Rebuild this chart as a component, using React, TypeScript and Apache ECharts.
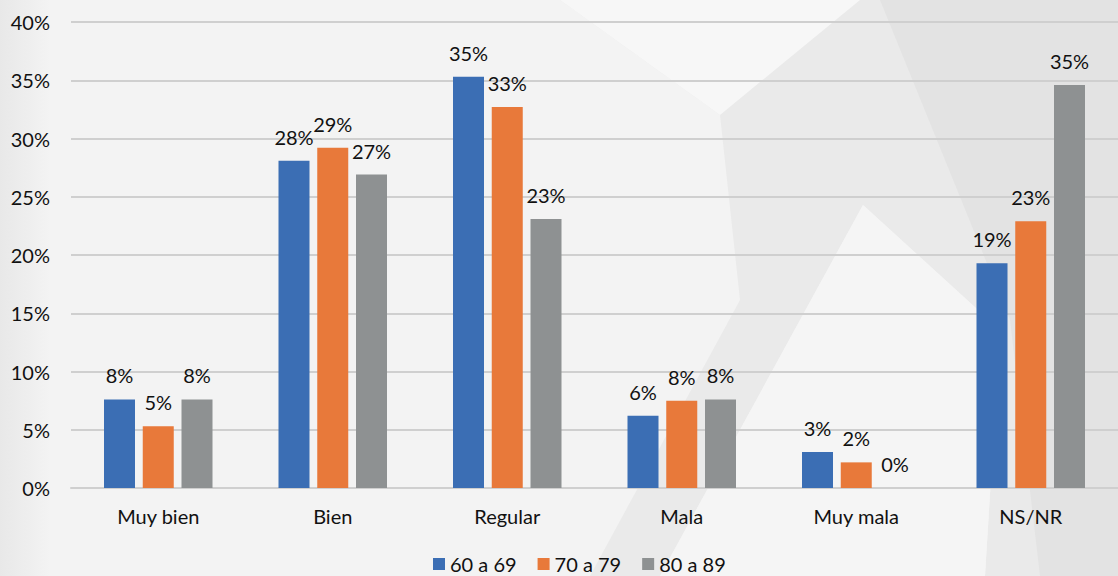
import React, { useEffect, useRef } from "react";
import * as echarts from "echarts";

const categories = ["Muy bien", "Bien", "Regular", "Mala", "Muy mala", "NS/NR"];
const seriesNames = ["60 a 69", "70 a 79", "80 a 89"];
const values6069 = [7.6, 28.1, 35.3, 6.2, 3.1, 19.3];
const values7079 = [5.3, 29.2, 32.7, 7.5, 2.2, 22.9];
const values8089 = [7.6, 26.9, 23.1, 7.6, 0, 34.6];
const colors = ["#3b6eb4", "#e8793a", "#8e9192"];

const FONT = "Lato, 'Open Sans', sans-serif";
const FS = 20;

export default function App() {
  const ref = useRef<HTMLDivElement>(null);
  useEffect(() => {
    if (!ref.current) return;
    const chart = echarts.init(ref.current, undefined, { renderer: "svg" });
    const label = {
      show: true,
      position: "top",
      distance: 14,
      color: "#111",
      fontSize: FS,
      fontFamily: FONT,
      formatter: (p: any) => Math.round(p.value) + "%",
    };
    const data = [values6069, values7079, values8089];
    chart.setOption({
      animation: false,
      backgroundColor: "#f3f3f3",
      textStyle: { fontFamily: FONT },
      graphic: [
        {
          type: "rect",
          z: -10,
          silent: true,
          shape: { x: 0, y: 0, width: 50, height: 576 },
          style: {
            fill: new echarts.graphic.LinearGradient(0, 0, 1, 0, [
              { offset: 0, color: "#e8e8e8" },
              { offset: 1, color: "#f3f3f3" },
            ]),
          },
        },
        {
          type: "polygon",
          z: -10,
          silent: true,
          shape: { points: [[560, 0], [1118, 0], [1118, 576], [985, 576], [1000, 330], [863, 205], [660, 576], [590, 576], [740, 300], [720, 115]] },
          style: { fill: "#eaeaea" },
        },
        {
          type: "polygon",
          z: -10,
          silent: true,
          shape: { points: [[560, 0], [860, 0], [720, 115]] },
          style: { fill: "#f7f7f7" },
        },
        {
          type: "polygon",
          z: -10,
          silent: true,
          shape: { points: [[863, 205], [660, 576], [985, 576], [1000, 330]] },
          style: { fill: "#f5f5f5" },
        },
        {
          type: "polygon",
          z: -10,
          silent: true,
          shape: { points: [[880, 0], [1118, 0], [1118, 576], [1040, 576], [1010, 320]] },
          style: { fill: "#e3e3e3" },
        },
      ],
      grid: { left: 71, right: 0, top: 22, bottom: 88, containLabel: false },
      legend: {
        data: seriesNames,
        left: 433,
        top: 554,
        padding: 0,
        itemWidth: 12,
        itemHeight: 12,
        itemGap: 21,
        icon: "rect",
        textStyle: { color: "#111", fontSize: FS, fontFamily: FONT, padding: [0, 0, 0, 0] },
      },
      xAxis: {
        type: "category",
        data: categories,
        axisLine: { show: true, lineStyle: { color: "#cfcfcf", width: 2 } },
        axisTick: { show: false },
        axisLabel: { color: "#111", fontSize: FS, fontFamily: FONT, margin: 18 },
      },
      yAxis: {
        type: "value",
        min: 0,
        max: 40,
        interval: 5,
        axisLine: { show: false },
        axisTick: { show: false },
        splitLine: { lineStyle: { color: "#cfcfcf", width: 2 } },
        axisLabel: { color: "#111", fontSize: FS, fontFamily: FONT, margin: 21, formatter: "{value}%" },
      },
      series: seriesNames.map((name, i) => ({
        name,
        type: "bar",
        data: data[i],
        barWidth: 31,
        barGap: "25%",
        itemStyle: { color: colors[i] },
        label,
      })),
    });
    return () => chart.dispose();
  }, []);
  return <div ref={ref} style={{ width: 1118, height: 576, position: "absolute", left: 0, top: 0 }} />;
}
